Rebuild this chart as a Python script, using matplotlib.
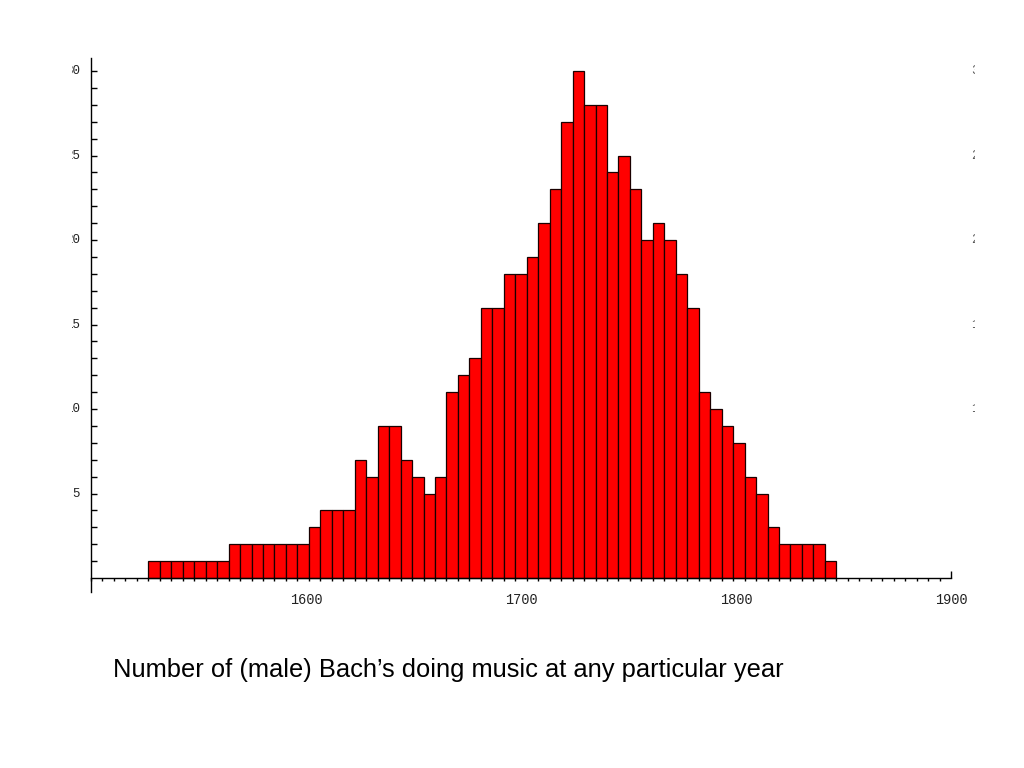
import numpy as np
import matplotlib
matplotlib.use("Agg")
import matplotlib.pyplot as plt
from matplotlib.transforms import Bbox, blended_transform_factory

# ---- data ----
x_start, x_end, n_axis_bins = 1500, 1900, 75
first_bin_index = 5
counts = [1, 1, 1, 1, 1, 1, 1,
          2, 2, 2, 2, 2, 2, 2,
          3, 4, 4, 4,
          7, 6, 9, 9, 7, 6, 5, 6,
          11, 12, 13, 16, 16, 18, 18, 19, 21, 23, 27, 30, 28, 28, 24,
          25, 23, 20, 21, 20, 18, 16,
          11, 10, 9, 8, 6, 5, 3, 2, 2, 2, 2, 1]
x_major = [1600, 1700, 1800, 1900]
y_major = [5, 10, 15, 20, 25, 30]
title = "Number of (male) Bach\u2019s doing music at any particular year"

edges = np.linspace(x_start, x_end, n_axis_bins + 1)
bin_w = edges[1] - edges[0]
lefts = edges[first_bin_index:first_bin_index + len(counts)]

fig = plt.figure(figsize=(10.24, 7.68), dpi=100)
y_lo, y_hi = -0.85, 30.8
ax = fig.add_axes([91 / 1024, 1 - 592.4 / 768, (951 - 91) / 1024, (592.4 - 57.5) / 768])
ax.bar(lefts, counts, width=bin_w, align="edge", color="#ff0000",
       edgecolor="#1a0000", linewidth=0.9, zorder=2)
ax.set_xlim(x_start, x_end)
ax.set_ylim(y_lo, y_hi)
ax.set_axisbelow(True)

for s in ("top", "right"):
    ax.spines[s].set_visible(False)
ax.spines["bottom"].set_position(("data", 0))
ax.spines["left"].set_linewidth(1.0)
ax.spines["bottom"].set_linewidth(1.0)

ax.set_xticks(x_major)
ax.set_xticks(edges, minor=True)
ax.tick_params(axis="x", which="major", direction="in", length=5, width=1, pad=11)
ax.tick_params(axis="x", which="minor", direction="out", length=2, width=1)
ax.set_xticklabels([str(v) for v in x_major], family="Liberation Mono", fontsize=9.8,
                   color="#222222")

ax.set_yticks(y_major)
ax.set_yticks(np.arange(1, 31), minor=True)
ax.tick_params(axis="y", which="both", direction="in", length=4, width=1)
ax.set_yticklabels([])

# left labels (partly cut off, as in the reference)
tr = blended_transform_factory(ax.transAxes, ax.transData)
clip_left = Bbox.from_extents(72, 0, 1024, 768)
for v in y_major:
    t = ax.text(-11 / 860, v, str(v), transform=tr, ha="right", va="center",
                family="Liberation Mono", fontsize=9, color="#222222",
                clip_on=True)
    t.set_clip_box(clip_left)

# right-side remnants of labels
clip_right = Bbox.from_extents(0, 0, 975, 768)
for v in y_major[1:][::-1]:
    t = ax.text((971 - 91) / 860, v, str(v), transform=tr, ha="left", va="center",
                family="Liberation Mono", fontsize=9, color="#555555",
                clip_on=True)
    t.set_clip_box(clip_right)

fig.text(113 / 1024, 1 - 670 / 768, title, ha="left", va="center",
         family="Liberation Sans", fontsize=18.4, color="black")

fig.savefig("out.png", dpi=100)
